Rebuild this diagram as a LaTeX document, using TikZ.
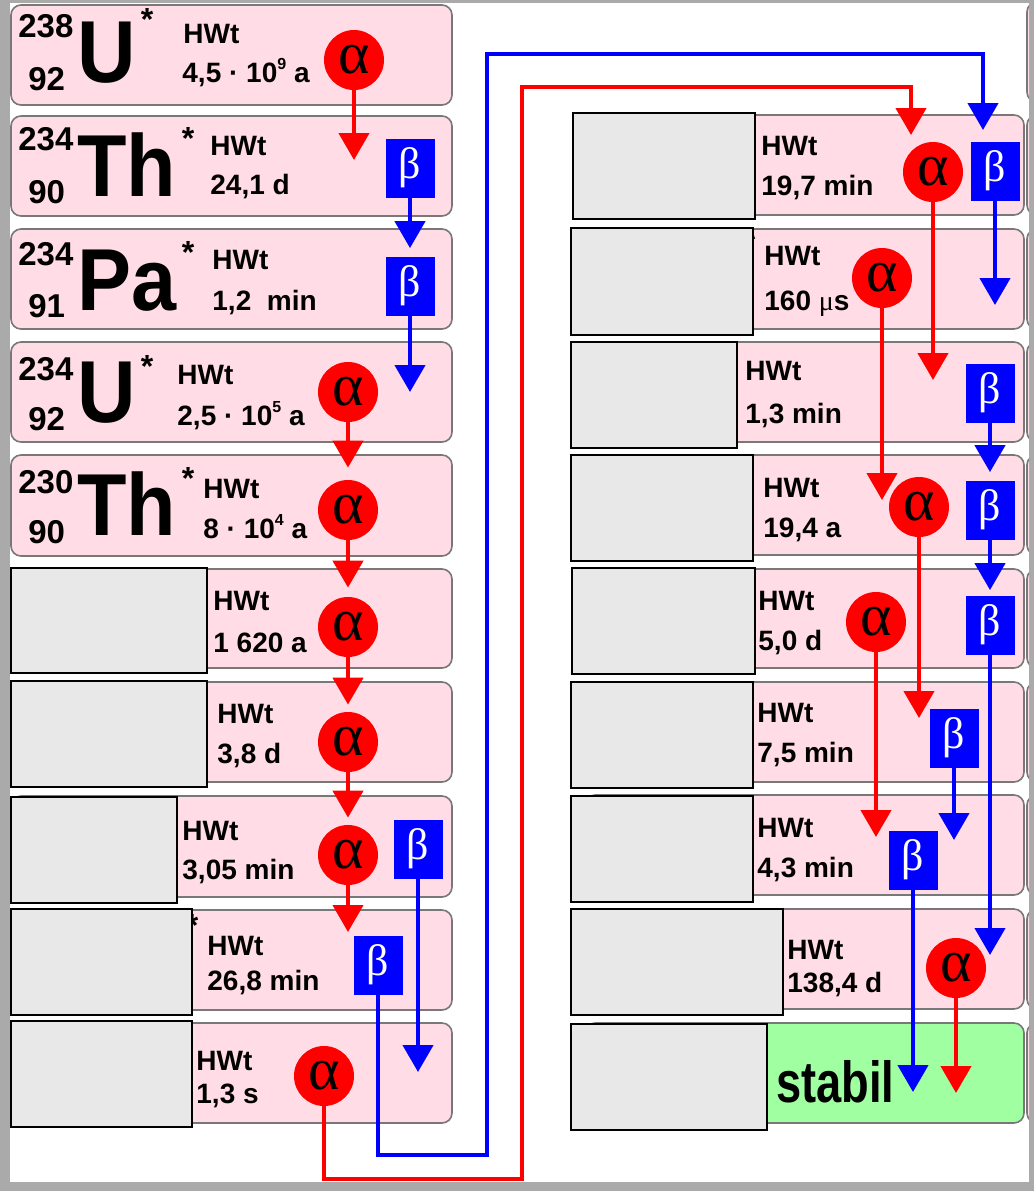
\documentclass[tikz,border=0pt]{standalone}
\usepackage{fontspec}
\setmainfont{Liberation Sans}
\newfontfamily\grk{Liberation Serif}
\newfontfamily\schmal[FakeStretch=0.78]{Liberation Sans}
\newfontfamily\symfont[FakeStretch=0.92]{Liberation Sans}
\usetikzlibrary{arrows.meta}
\definecolor{rosa}{RGB}{255,220,230}
\definecolor{gruen}{RGB}{160,255,160}
\definecolor{rand}{RGB}{120,120,120}
\definecolor{deckgrau}{RGB}{232,232,232}
\definecolor{rahmen}{RGB}{170,170,170}
\newcommand{\hoch}[1]{\raisebox{0.45em}{\fontsize{8}{8}\selectfont #1}}
\begin{document}
\begin{tikzpicture}[x=0.5pt,y=-0.5pt,
    kern/.style={draw=rand,fill=rosa,rounded corners=5pt,line width=0.8pt},
    deckel/.style={draw=black,fill=deckgrau,line width=1pt},
    hwt/.style={anchor=base west,inner sep=0pt,font=\fontsize{14}{14}\selectfont\bfseries},
    sym/.style={anchor=base west,inner sep=0pt,font=\symfont\fontsize{44}{44}\selectfont\bfseries},
    zahl/.style={anchor=base west,inner sep=0pt,font=\fontsize{16.5}{16.5}\selectfont\bfseries},
    stern/.style={anchor=north,inner sep=0pt,font=\fontsize{16}{16}\selectfont\bfseries},
    alpha/.style={circle,fill=red,minimum size=30pt,inner sep=0pt,font=\grk\fontsize{30}{30}\selectfont},
    beta/.style={fill=blue,minimum width=24.5pt,minimum height=29.5pt,inner sep=0pt,text=white,font=\grk\fontsize{22}{22}\selectfont},
    ra/.style={red,line width=2.2pt,-{Triangle[width=15pt,length=13.5pt]}},
    rb/.style={blue,line width=2.2pt,-{Triangle[width=15pt,length=13.5pt]}}]
    \useasboundingbox (0,0) rectangle (1034,1191);
    \fill[rahmen] (0,0) rectangle (1034,1191);
    \fill[white] (10,3) rectangle (1029,1182);

    \draw[kern] (11,5) rectangle (452,105);
    \draw[kern] (11,116) rectangle (452,216);
    \draw[kern] (11,229) rectangle (452,329);
    \draw[kern] (11,342) rectangle (452,442);
    \draw[kern] (11,455) rectangle (452,556);
    \draw[kern] (11,569) rectangle (452,668);
    \draw[kern] (11,682) rectangle (452,782);
    \draw[kern] (11,796) rectangle (452,897);
    \draw[kern] (11,910) rectangle (452,1010);
    \draw[kern] (11,1023) rectangle (452,1123);

    \draw[kern] (585,115) rectangle (1024,215);
    \draw[kern] (585,229) rectangle (1024,329);
    \draw[kern] (585,342) rectangle (1024,442);
    \draw[kern] (585,455) rectangle (1024,555);
    \draw[kern] (585,569) rectangle (1024,668);
    \draw[kern] (585,682) rectangle (1024,782);
    \draw[kern] (585,795) rectangle (1024,895);
    \draw[kern] (585,909) rectangle (1024,1009);
    \draw[kern,fill=gruen] (585,1023) rectangle (1024,1123);

    \begin{scope}
        \clip (10,3) rectangle (1029,1182);
        \draw[kern] (1027,2) rectangle (1100,102);
        \draw[kern] (1027,115) rectangle (1100,215);
        \draw[kern] (1027,229) rectangle (1100,329);
        \draw[kern] (1027,342) rectangle (1100,442);
        \draw[kern] (1027,455) rectangle (1100,555);
        \draw[kern] (1027,569) rectangle (1100,668);
        \draw[kern] (1027,682) rectangle (1100,782);
        \draw[kern] (1027,795) rectangle (1100,895);
        \draw[kern] (1027,909) rectangle (1100,1009);
        \draw[kern] (1027,1023) rectangle (1100,1123);
    \end{scope}

    \node[zahl] (u238a) at (18,37) {238};
    \node[zahl] (u238z) at (28,90) {92};
    \node[sym] (u238s) at (77,82) {U};
    \node[stern] (u238st) at (147,8) {*};
    \node[hwt] (u238h) at (183,43) {HWt};
    \node[hwt] (u238t) at (182,82) {4,5 · 10\hoch{9} a};

    \node[zahl] (th234a) at (18,150) {234};
    \node[zahl] (th234z) at (28,203) {90};
    \node[sym] (th234s) at (77,196) {Th};
    \node[stern] (th234st) at (188,127) {*};
    \node[hwt] (th234h) at (210,155) {HWt};
    \node[hwt] (th234t) at (210,194) {24,1 d};

    \node[zahl] (pa234a) at (18,265) {234};
    \node[zahl] (pa234z) at (28,317) {91};
    \node[sym] (pa234s) at (77,310) {Pa};
    \node[stern] (pa234st) at (188,241) {*};
    \node[hwt] (pa234h) at (212,269) {HWt};
    \node[hwt] (pa234t) at (212,310) {1,2\ \ min};

    \node[zahl] (u234a) at (18,380) {234};
    \node[zahl] (u234z) at (28,430) {92};
    \node[sym] (u234s) at (77,422) {U};
    \node[stern] (u234st) at (147,355) {*};
    \node[hwt] (u234h) at (177,384) {HWt};
    \node[hwt] (u234t) at (177,425) {2,5 · 10\hoch{5} a};

    \node[zahl] (th230a) at (18,493) {230};
    \node[zahl] (th230z) at (28,543) {90};
    \node[sym] (th230s) at (77,535) {Th};
    \node[stern] (th230st) at (188,467) {*};
    \node[hwt] (th230h) at (203,498) {HWt};
    \node[hwt] (th230t) at (203,538) {8 · 10\hoch{4} a};

    \node[hwt] (ra226h) at (213,610) {HWt};
    \node[hwt] (ra226t) at (213,652) {1 620 a};
    \node[hwt] (rn222h) at (217,723) {HWt};
    \node[hwt] (rn222t) at (217,763) {3,8 d};
    \node[hwt] (po218h) at (182,840) {HWt};
    \node[hwt] (po218t) at (182,879) {3,05 min};
    \node[stern] (pb214st) at (192,914) {*};
    \node[hwt] (pb214h) at (207,955) {HWt};
    \node[hwt] (pb214t) at (207,990) {26,8 min};
    \node[hwt] (at218h) at (196,1070) {HWt};
    \node[hwt] (at218t) at (196,1103) {1,3 s};

    \node[hwt] (bi214h) at (761,155) {HWt};
    \node[hwt] (bi214t) at (761,195) {19,7 min};
    \node[stern] (po214st) at (749,233) {*};
    \node[hwt] (po214h) at (764,265) {HWt};
    \node[hwt] (po214t) at (764,310) {160 {\grk\mdseries μ}s};
    \node[hwt] (tl210h) at (745,380) {HWt};
    \node[hwt] (tl210t) at (745,423) {1,3 min};
    \node[hwt] (pb210h) at (763,497) {HWt};
    \node[hwt] (pb210t) at (763,537) {19,4 a};
    \node[hwt] (bi210h) at (758,610) {HWt};
    \node[hwt] (bi210t) at (758,650) {5,0 d};
    \node[hwt] (hg206h) at (757,722) {HWt};
    \node[hwt] (hg206t) at (757,762) {7,5 min};
    \node[hwt] (tl206h) at (757,837) {HWt};
    \node[hwt] (tl206t) at (757,877) {4,3 min};
    \node[hwt] (po210h) at (787,959) {HWt};
    \node[hwt] (po210t) at (787,992) {138,4 d};
    \node[anchor=base west,inner sep=0pt,font=\schmal\fontsize{29}{29}\selectfont\bfseries] (pb206t) at (776,1102) {stabil};

    \draw[deckel] (11,568) rectangle (207,673);
    \draw[deckel] (11,681) rectangle (207,787);
    \draw[deckel] (11,797) rectangle (177,903);
    \draw[deckel] (11,909) rectangle (192,1015);
    \draw[deckel] (11,1021) rectangle (192,1127);
    \draw[deckel] (573,113) rectangle (755,219);
    \draw[deckel] (571,228) rectangle (753,335);
    \draw[deckel] (571,342) rectangle (737,448);
    \draw[deckel] (571,455) rectangle (753,561);
    \draw[deckel] (572,568) rectangle (755,674);
    \draw[deckel] (571,682) rectangle (753,788);
    \draw[deckel] (571,796) rectangle (753,902);
    \draw[deckel] (571,909) rectangle (783,1015);
    \draw[deckel] (571,1024) rectangle (767,1130);

    \node[alpha] (au238) at (354,60) {α};
    \node[alpha] (au234) at (348,392) {α};
    \node[alpha] (ath230) at (348,510) {α};
    \node[alpha] (ara226) at (348,627) {α};
    \node[alpha] (arn222) at (348,742) {α};
    \node[alpha] (apo218) at (348,855) {α};
    \node[alpha] (aat218) at (324,1076) {α};
    \node[alpha] (abi214) at (933,172) {α};
    \node[alpha] (apo214) at (882,278) {α};
    \node[alpha] (apb210) at (919,507) {α};
    \node[alpha] (abi210) at (876,622) {α};
    \node[alpha] (apo210) at (956,968) {α};

    \node[beta] (bth234) at (410,168) {β};
    \node[beta] (bpa234) at (410,286) {β};
    \node[beta] (bpo218) at (418,849) {β};
    \node[beta] (bpb214) at (378,965) {β};
    \node[beta] (bbi214) at (995,171) {β};
    \node[beta] (btl210) at (990,393) {β};
    \node[beta] (bpb210) at (990,510) {β};
    \node[beta] (bbi210) at (990,625) {β};
    \node[beta] (bhg206) at (954,738) {β};
    \node[beta] (btl206) at (913,860) {β};

    \coordinate (zu238) at (354,160);
    \coordinate (zpa234) at (410,392);
    \coordinate (zpo218a) at (348,932);
    \coordinate (zpo218b) at (418,1072);
    \coordinate (zpb214) at (983,130);
    \coordinate (zat218) at (911,135);
    \coordinate (zbi214a) at (933,380);
    \coordinate (zbi214b) at (995,305);
    \coordinate (zpo214) at (882,500);
    \coordinate (zpb210) at (919,718);
    \coordinate (zbi210a) at (876,837);
    \coordinate (zbi210b) at (990,955);
    \coordinate (zhg206) at (954,840);
    \coordinate (ztl206) at (913,1092);
    \coordinate (zpo210) at (956,1093);

    \draw[ra] (au238) -- (zu238);
    \draw[ra,shorten >=6pt] (au234) -- (ath230);
    \draw[ra,shorten >=4.5pt] (ath230) -- (ara226);
    \draw[ra,shorten >=3.5pt] (ara226) -- (arn222);
    \draw[ra,shorten >=3.5pt] (arn222) -- (apo218);
    \draw[ra] (apo218) -- (zpo218a);
    \draw[ra] (aat218) |- (522,1179) |- (911,87) -- (zat218);
    \draw[ra] (abi214) -- (zbi214a);
    \draw[ra] (apo214) -- (zpo214);
    \draw[ra] (apb210) -- (zpb210);
    \draw[ra] (abi210) -- (zbi210a);
    \draw[ra] (apo210) -- (zpo210);

    \draw[rb,shorten >=4pt] (bth234) -- (bpa234);
    \draw[rb] (bpa234) -- (zpa234);
    \draw[rb] (bpo218) -- (zpo218b);
    \draw[rb] (bpb214) |- (487,1155) |- (983,54) -- (zpb214);
    \draw[rb] (bbi214) -- (zbi214b);
    \draw[rb,shorten >=4pt] (btl210) -- (bpb210);
    \draw[rb,shorten >=2.5pt] (bpb210) -- (bbi210);
    \draw[rb] (bbi210) -- (zbi210b);
    \draw[rb] (bhg206) -- (zhg206);
    \draw[rb] (btl206) -- (ztl206);
\end{tikzpicture}
\end{document}
